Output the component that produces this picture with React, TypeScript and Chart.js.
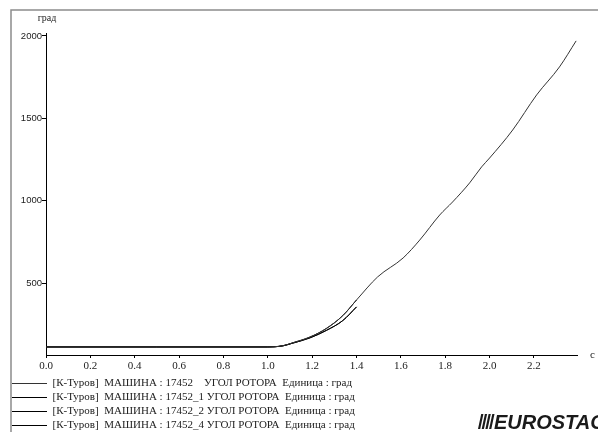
import React, { useEffect, useRef } from "react";
import { Chart, registerables } from "chart.js";

Chart.register(...registerables);

const seriesLabels = [
  "[К-Туров]  МАШИНА : 17452    УГОЛ РОТОРА  Единица : град",
  "[К-Туров]  МАШИНА : 17452_1 УГОЛ РОТОРА  Единица : град",
  "[К-Туров]  МАШИНА : 17452_2 УГОЛ РОТОРА  Единица : град",
  "[К-Туров]  МАШИНА : 17452_4 УГОЛ РОТОРА  Единица : град",
];

// time, s
const mainTime = [0, 0.5, 1.0, 1.03, 1.07, 1.11, 1.19, 1.265, 1.338, 1.4, 1.495, 1.61, 1.685, 1.775, 1.833, 1.91, 1.964, 2.0, 2.104, 2.212, 2.315, 2.39];
// rotor angle, град
const mainAngle = [112, 112, 112, 113, 120, 136, 172, 225, 302, 397, 537, 652, 761, 913, 992, 1108, 1205, 1259, 1429, 1642, 1812, 1970];

const shortTime = [0, 0.5, 1.0, 1.03, 1.07, 1.11, 1.19, 1.265, 1.338, 1.4];
const lowerAngle = [112, 112, 112, 113, 119, 134, 167, 213, 272, 355];
const mainShortAngle = [112, 112, 112, 113, 120, 136, 172, 225, 302, 397];

const xTicks = [0, 0.2, 0.4, 0.6, 0.8, 1.0, 1.2, 1.4, 1.6, 1.8, 2.0, 2.2];
const yTicks = [500, 1000, 1500, 2000];
const xMin = 0;
const xMax = 2.394;
const yMin = 63;
const yMax = 2018;

const yUnit = "град";
const xUnit = "с";
const logoText = "EUROSTAG";

function pts(t: number[], v: number[]) {
  return t.map((x, i) => ({ x, y: v[i] }));
}

const extrasPlugin = {
  id: "extras",
  afterDraw(chart: any) {
    const ctx = chart.ctx;
    const area = chart.chartArea;
    ctx.save();
    // frame
    ctx.strokeStyle = "#8c8c8c";
    ctx.lineWidth = 1.5;
    ctx.strokeRect(11, 10, 700, 700);
    // y unit
    ctx.fillStyle = "#222";
    ctx.font = "10px 'Liberation Serif'";
    ctx.textAlign = "center";
    ctx.textBaseline = "middle";
    ctx.fillText(yUnit, 47, 18);
    // x unit
    ctx.font = "11px 'Liberation Serif'";
    ctx.textAlign = "left";
    ctx.fillText(xUnit, area.right + 13, area.bottom);
    // logo
    ctx.fillStyle = "#1a1a1a";
    const top = 414, bot = 429;
    for (let i = 0; i < 4; i++) {
      const x0 = 478 + i * 3.7;
      ctx.beginPath();
      ctx.moveTo(x0 + 3.2, top);
      ctx.lineTo(x0 + 5.4, top);
      ctx.lineTo(x0 + 2.2, bot);
      ctx.lineTo(x0, bot);
      ctx.closePath();
      ctx.fill();
    }
    ctx.font = "italic bold 20px 'Liberation Sans'";
    ctx.textBaseline = "alphabetic";
    ctx.fillText(logoText, 494, 429);
    ctx.restore();
  },
};

export default function App() {
  const ref = useRef<HTMLCanvasElement>(null);
  useEffect(() => {
    if (!ref.current) return;
    const common = {
      borderColor: "#000",
      backgroundColor: "#000",
      borderWidth: 1,
      pointRadius: 0,
      fill: false,
      cubicInterpolationMode: "monotone" as const,
    };
    const chart = new Chart(ref.current, {
      type: "line",
      data: {
        datasets: [
          { ...common, label: seriesLabels[0], data: pts(mainTime, mainAngle), borderColor: "#333", borderWidth: 1 },
          { ...common, label: seriesLabels[1], data: pts(shortTime, lowerAngle) },
          { ...common, label: seriesLabels[2], data: pts(shortTime, mainShortAngle) },
          { ...common, label: seriesLabels[3], data: pts(shortTime, lowerAngle) },
        ],
      },
      options: {
        animation: false,
        responsive: false,
        devicePixelRatio: 1,
        layout: { padding: { left: 9, top: 33, right: 21, bottom: 0 } },
        plugins: {
          tooltip: { enabled: false },
          title: { display: false },
          legend: {
            display: true,
            position: "bottom",
            align: "start",
            labels: {
              usePointStyle: true,
              pointStyle: "line",
              pointStyleWidth: 35,
              padding: 3,
              color: "#222",
              font: { family: "'Liberation Serif'", size: 11 },
            },
          },
        },
        scales: {
          x: {
            type: "linear",
            min: xMin,
            max: xMax,
            border: { color: "#000", width: 1 },
            grid: { drawOnChartArea: false, drawTicks: true, tickLength: 3, color: "#000" },
            afterBuildTicks: (s: any) => {
              s.ticks = xTicks.map((value) => ({ value }));
            },
            ticks: {
              autoSkip: false,
              maxRotation: 0,
              padding: 2,
              color: "#222",
              font: { family: "'Liberation Serif'", size: 11 },
              callback: (v: any) => Number(v).toFixed(1),
            },
            afterFit: (s: any) => {
              s.height = 20;
            },
          },
          y: {
            type: "linear",
            min: yMin,
            max: yMax,
            border: { color: "#000", width: 1 },
            grid: { drawOnChartArea: false, drawTicks: true, tickLength: 4, color: "#000" },
            afterBuildTicks: (s: any) => {
              s.ticks = yTicks.map((value) => ({ value }));
            },
            ticks: {
              autoSkip: false,
              padding: 0,
              color: "#222",
              font: { family: "'Liberation Sans'", size: 9.5 },
              callback: (v: any) => String(v),
            },
            afterFit: (s: any) => {
              s.width = 37;
            },
          },
        },
      },
      plugins: [extrasPlugin],
    });
    return () => chart.destroy();
  }, []);
  return (
    <div style={{ position: "absolute", left: 0, top: 0, width: 598, height: 432, overflow: "hidden", background: "#fff" }}>
      <canvas ref={ref} width={598} height={441} style={{ display: "block" }} />
    </div>
  );
}
